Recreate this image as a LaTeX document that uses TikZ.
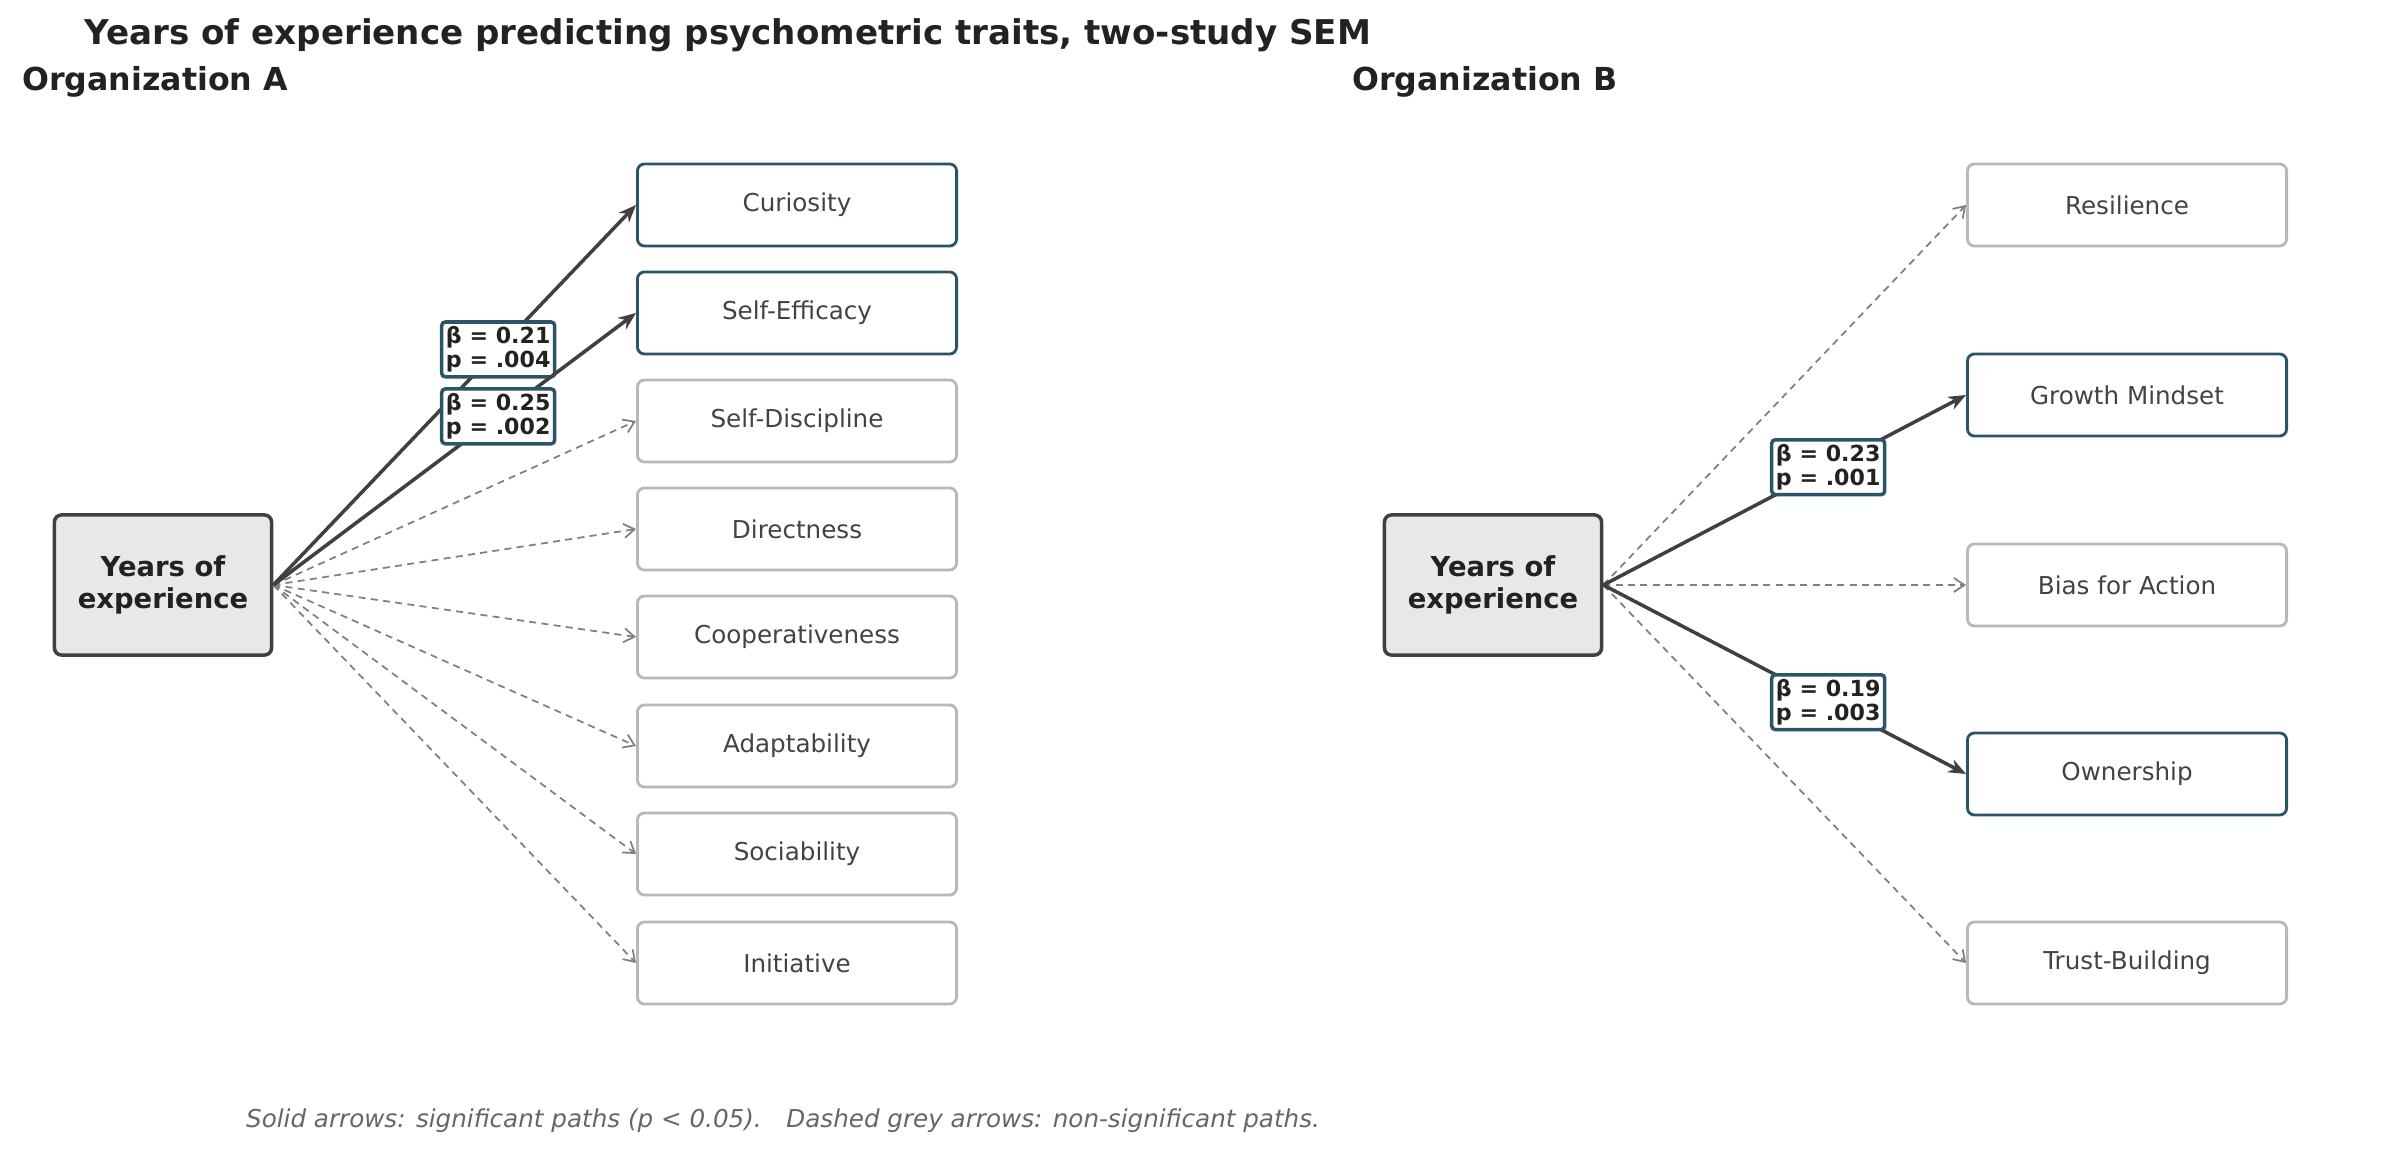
\documentclass[tikz,border=0pt]{standalone}
\usepackage{fontspec}
\setmainfont{DejaVu Sans}
\usepackage{xcolor}
\usetikzlibrary{arrows.meta}
\definecolor{sigblue}{HTML}{2C5468}
\definecolor{boxgrey}{HTML}{B8B8B8}
\definecolor{srcfill}{HTML}{E8E8E8}
\definecolor{ink}{HTML}{222222}
\definecolor{pathgrey}{HTML}{404040}
\tikzset{
  src/.style={draw=pathgrey, fill=srcfill, line width=1pt, rounded corners=2pt,
    minimum width=2.17cm, minimum height=1.4cm, align=center,
    font=\fontsize{7.8}{9}\selectfont\bfseries, text=ink},
  trait/.style={draw=boxgrey, fill=white, line width=0.8pt, rounded corners=2pt,
    minimum width=3.19cm, minimum height=0.82cm,
    font=\fontsize{7}{8}\selectfont, text=ink!85},
  sigtrait/.style={trait, draw=sigblue},
  sig/.style={draw=pathgrey, line width=1pt, -{Stealth[length=5pt,width=4pt]}},
  ns/.style={draw=gray, line width=0.5pt, dash pattern=on 2pt off 1.5pt,
    -{Straight Barb[length=3pt,width=4pt]}},
  lbl/.style={draw=sigblue, fill=white, rounded corners=1pt, inner sep=1.2pt,
    align=left, font=\fontsize{6.3}{7}\selectfont\bfseries, text=ink},
  head/.style={font=\fontsize{9}{10}\selectfont\bfseries, text=ink, anchor=west}
}
\begin{document}
\begin{tikzpicture}[x=0.01cm, y=-0.01cm]
  \useasboundingbox (0,0) rectangle (2404,1152);
  \node[font=\fontsize{9.7}{11}\selectfont\bfseries, text=ink] (title) at (728,35)
    {Years of experience predicting psychometric traits, two-study SEM};
  \node[head] (hA) at (10,82) {Organization A};
  \node[head] (hB) at (1340,82) {Organization B};

  % Organization A
  \node[src] (srcA) at (163,585) {Years of\\experience};
  \node[sigtrait] (cur) at (797,205) {Curiosity};
  \node[sigtrait] (eff) at (797,313) {Self-Efficacy};
  \node[trait] (dis) at (797,421) {Self-Discipline};
  \node[trait] (dir) at (797,529) {Directness};
  \node[trait] (coo) at (797,637) {Cooperativeness};
  \node[trait] (ada) at (797,746) {Adaptability};
  \node[trait] (soc) at (797,854) {Sociability};
  \node[trait] (ini) at (797,963) {Initiative};
  \foreach \t in {dis,dir,coo,ada,soc,ini}
    \draw[ns] (srcA.east) -- (\t.west);
  \draw[sig] (srcA.east) -- node[lbl, pos=0.62] {β = 0.21\\p = .004} (cur.west);
  \draw[sig] (srcA.east) -- node[lbl, pos=0.62] {β = 0.25\\p = .002} (eff.west);

  % Organization B
  \node[src] (srcB) at (1493,585) {Years of\\experience};
  \node[trait] (res) at (2127,205) {Resilience};
  \node[sigtrait] (gro) at (2127,395) {Growth Mindset};
  \node[trait] (bia) at (2127,585) {Bias for Action};
  \node[sigtrait] (own) at (2127,774) {Ownership};
  \node[trait] (tru) at (2127,963) {Trust-Building};
  \foreach \t in {res,bia,tru}
    \draw[ns] (srcB.east) -- (\t.west);
  \draw[sig] (srcB.east) -- node[lbl, pos=0.62] {β = 0.23\\p = .001} (gro.west);
  \draw[sig] (srcB.east) -- node[lbl, pos=0.62] {β = 0.19\\p = .003} (own.west);

  \node[font=\fontsize{7}{8}\selectfont\itshape, text=gray!80!black] (note) at (783,1121)
    {Solid arrows: significant paths (p < 0.05).\quad Dashed grey arrows: non-significant paths.};
\end{tikzpicture}
\end{document}
